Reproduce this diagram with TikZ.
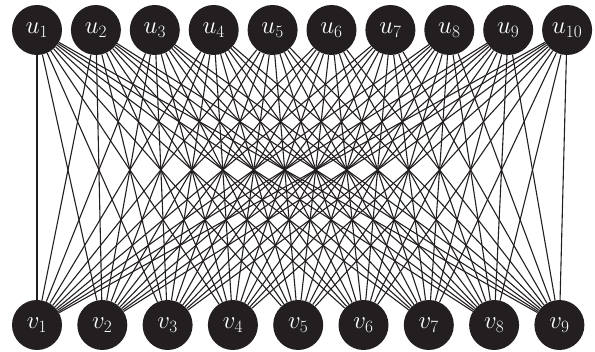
\documentclass[tikz,border=0pt]{standalone}
\begin{document}
\begin{tikzpicture}[x=1pt,y=1pt,
  vert/.style={circle,fill=nodefill,draw=none,minimum size=50pt,inner sep=0pt,text=white,font=\fontsize{23}{27}\selectfont},
  edge/.style={line width=1.1pt,draw=nodefill}]
\definecolor{nodefill}{HTML}{231F20}
\useasboundingbox (0,0) rectangle (595,352);
\foreach \i in {1,...,10} {
  \node[vert] (u\i) at ({37+(\i-1)*58.9},322) {$u_{\i}$};
}
\foreach \j in {1,...,9} {
  \node[vert] (v\j) at ({37+(\j-1)*65.3},27) {$v_{\j}$};
}
\foreach \i in {1,...,10} {
  \foreach \j in {1,...,9} {
    \draw[edge] (u\i) -- (v\j);
  }
}
\end{tikzpicture}
\end{document}
